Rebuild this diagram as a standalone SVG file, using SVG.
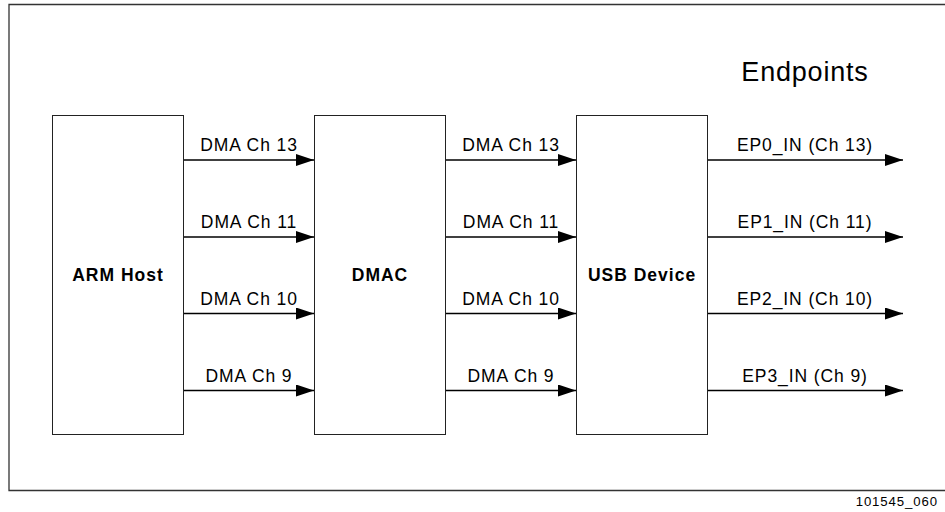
<svg xmlns="http://www.w3.org/2000/svg" width="945" height="512" viewBox="0 0 945 512">
<defs>
<marker id="ah" markerUnits="userSpaceOnUse" markerWidth="18" markerHeight="12" refX="18" refY="6" orient="auto">
<path d="M0,0 L18,6 L0,12 Z" fill="#000"/>
</marker>
</defs>
<style>
.frame{fill:none;stroke:#333;stroke-width:1.3}
.box{fill:#fff;stroke:#222;stroke-width:1}
.conn{stroke:#000;stroke-width:1.4;fill:none;marker-end:url(#ah)}
.lbl{font-family:"Liberation Sans",Arial,sans-serif;font-size:17.5px;letter-spacing:0.9px;fill:#000;text-anchor:middle}
.bold{font-family:"Liberation Sans",Arial,sans-serif;font-size:17.5px;font-weight:bold;letter-spacing:1px;fill:#000;text-anchor:middle}
</style>
<rect width="945" height="512" fill="#fff"/>
<path class="frame" d="M945,4.5 H9 V490.5 H945"/>
<text x="805" y="81" font-family="'Liberation Sans',Arial,sans-serif" font-size="27" letter-spacing="0.8" text-anchor="middle">Endpoints</text>
<text x="938" y="505.5" font-family="'Liberation Sans',Arial,sans-serif" font-size="13.2" letter-spacing="0.9" text-anchor="end">101545_060</text>
<g id="arm-host">
<rect class="box" x="52.5" y="115.5" width="131" height="319"/>
<text class="bold" x="118" y="281">ARM Host</text>
</g>
<g id="dmac">
<rect class="box" x="314.5" y="115.5" width="131" height="319"/>
<text class="bold" x="380" y="281">DMAC</text>
</g>
<g id="usb-device">
<rect class="box" x="576.5" y="115.5" width="131" height="319"/>
<text class="bold" x="642" y="281">USB Device</text>
</g>
<g id="connectors">
<line class="conn" x1="184" y1="160" x2="314" y2="160"/>
<line class="conn" x1="184" y1="237" x2="314" y2="237"/>
<line class="conn" x1="184" y1="313.5" x2="314" y2="313.5"/>
<line class="conn" x1="184" y1="390.5" x2="314" y2="390.5"/>
<line class="conn" x1="446" y1="160" x2="576" y2="160"/>
<line class="conn" x1="446" y1="237" x2="576" y2="237"/>
<line class="conn" x1="446" y1="313.5" x2="576" y2="313.5"/>
<line class="conn" x1="446" y1="390.5" x2="576" y2="390.5"/>
<line class="conn" x1="708" y1="160" x2="903" y2="160"/>
<line class="conn" x1="708" y1="237" x2="903" y2="237"/>
<line class="conn" x1="708" y1="313.5" x2="903" y2="313.5"/>
<line class="conn" x1="708" y1="390.5" x2="903" y2="390.5"/>
<text class="lbl" x="249" y="151">DMA Ch 13</text>
<text class="lbl" x="249" y="228">DMA Ch 11</text>
<text class="lbl" x="249" y="304.5">DMA Ch 10</text>
<text class="lbl" x="249" y="381.5">DMA Ch 9</text>
<text class="lbl" x="511" y="151">DMA Ch 13</text>
<text class="lbl" x="511" y="228">DMA Ch 11</text>
<text class="lbl" x="511" y="304.5">DMA Ch 10</text>
<text class="lbl" x="511" y="381.5">DMA Ch 9</text>
<text class="lbl" x="805" y="151">EP0_IN (Ch 13)</text>
<text class="lbl" x="805" y="228">EP1_IN (Ch 11)</text>
<text class="lbl" x="805" y="304.5">EP2_IN (Ch 10)</text>
<text class="lbl" x="805" y="381.5">EP3_IN (Ch 9)</text>
</g>
</svg>
